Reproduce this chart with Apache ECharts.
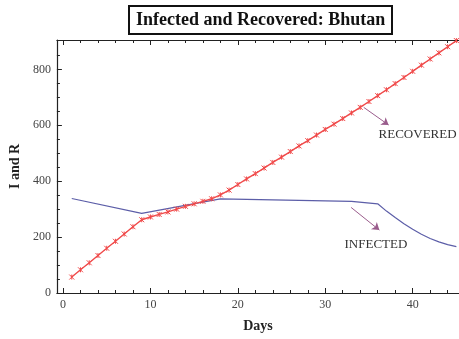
<!DOCTYPE html>
<html>
<head>
<meta charset="utf-8">
<script src="https://cdn.jsdelivr.net/npm/echarts@6/dist/echarts.min.js"></script>
<style>
html,body{margin:0;padding:0;background:#fff;}
#tu_1{width:459px;height:339px;}
</style>
</head>
<body>
<div id="tu_1"></div>
<script>
var title = 'Infected and Recovered: Bhutan';
// recovered, one point per day
var recDays = [1,2,3,4,5,6,7,8,9,10,11,12,13,14,15,16,17,18,19,20,21,22,23,24,25,26,27,28,29,30,31,32,33,34,35,36,37,38,39,40,41,42,43,44,45];
var recovered = [57,83,108,134,160,185,211,237,262,272,281,290,300,310,319,328,337,351,368,388,408,427,447,467,486,506,526,545,565,585,604,624,644,664,685,706,727,749,771,793,815,837,859,881,903];
// infected (read at the break points of the curve)
var infDays = [1,9,18,33,36,37,38,39,40,41,42,43,44,45];
var infected = [338,285,337,328,319,293,270,248,228,210,195,183,173,166];
// ticks
var xMajor = [0,10,20,30,40];
var xMinor = [2,4,6,8,12,14,16,18,22,24,26,28,32,34,36,38,42,44];
var yMajor = [0,200,400,600,800];
var yMinor = [50,100,150,250,300,350,450,500,550,650,700,750,850];

var serif = '"Liberation Serif","DejaVu Serif",serif';
var myChart_1;

function pairs(xs, ys){
	var out = [];
	for(var i=0;i<xs.length;i++){
		out.push([xs[i], ys[i]]);
	}
	return out;
}

function xAx(pos, ticks, len, showLine, labels){
	return {
		type:'value', position:pos, min:-0.7, max:45.3,
		splitLine:{show:false},
		axisLine:{show:showLine, onZero:false, lineStyle:{color:'#222',width:1.2}},
		axisTick:{show:true, inside:true, length:len, customValues:ticks, lineStyle:{color:'#222'}},
		axisLabel:{show:labels, customValues:ticks, fontFamily:serif, fontSize:12, color:'#444', margin:6}
	};
}
function yAx(ticks, len, showLine, labels){
	return {
		type:'value', position:'left', min:0, max:905,
		splitLine:{show:false},
		axisLine:{show:showLine, onZero:false, lineStyle:{color:'#222',width:1.2}},
		axisTick:{show:true, inside:true, length:len, customValues:ticks, lineStyle:{color:'#222'}},
		axisLabel:{show:labels, customValues:ticks, fontFamily:serif, fontSize:12, color:'#444', margin:6}
	};
}

function a1(){
	myChart_1 = echarts.init(document.getElementById('tu_1'));
	var xMain = xAx('bottom', xMajor, 5, true, true);
	xMain.name = 'Days';
	xMain.nameLocation = 'middle';
	xMain.nameGap = 26;
	xMain.nameTextStyle = {fontFamily:serif, fontSize:14, fontWeight:'bold', color:'#222'};
	var yMain = yAx(yMajor, 5, true, true);
	yMain.name = 'I and R';
	yMain.nameLocation = 'middle';
	yMain.nameRotate = 90;
	yMain.nameGap = 30;
	yMain.nameTextStyle = {fontFamily:serif, fontSize:14, fontWeight:'bold', color:'#222'};

	var option = {
		animation:false,
		title:{
			text:title,
			left:129, top:6,
			padding:[5,7,5,7],
			borderColor:'#111', borderWidth:2,
			textStyle:{fontFamily:serif, fontSize:18, fontWeight:'bold', color:'#111'}
		},
		grid:{left:56, right:0, top:40, bottom:46},
		xAxis:[
			xMain,
			xAx('bottom', xMinor, 3, false, false),
			xAx('top', xMajor, 5, true, false),
			xAx('top', xMinor, 3, false, false)
		],
		yAxis:[
			yMain,
			yAx(yMinor, 3, false, false)
		],
		series:[
			{
				name:'INFECTED', type:'line', xAxisIndex:0, yAxisIndex:0,
				data:pairs(infDays, infected),
				showSymbol:false, symbol:'none',
				lineStyle:{color:'#5c5ea8', width:1.2},
				markLine:{
					silent:true, symbol:['none','arrow'], symbolSize:7,
					lineStyle:{color:'#9a5c8c', width:1, type:'solid'},
					label:{show:false},
					data:[[{coord:[32.96,306]},{coord:[36.19,225]}]]
				},
				markPoint:{
					silent:true, symbolSize:0,
					label:{show:true, position:'inside', formatter:'INFECTED', fontFamily:serif, fontSize:13, color:'#333'},
					data:[{coord:[35.8,172]}]
				}
			},
			{
				name:'RECOVERED', type:'line', xAxisIndex:0, yAxisIndex:0,
				data:pairs(recDays, recovered),
				symbol:'path://M0,0L10,10M10,0L0,10M5,0L5,10', symbolSize:5,
				itemStyle:{color:'#f04a4a', borderColor:'#f04a4a', borderWidth:1},
				lineStyle:{color:'#f04a4a', width:1.4},
				markLine:{
					silent:true, symbol:['none','arrow'], symbolSize:7,
					lineStyle:{color:'#9a5c8c', width:1, type:'solid'},
					label:{show:false},
					data:[[{coord:[34.4,664]},{coord:[37.25,601]}]]
				},
				markPoint:{
					silent:true, symbolSize:0,
					label:{show:true, position:'inside', formatter:'RECOVERED', fontFamily:serif, fontSize:13, color:'#333'},
					data:[{coord:[40.56,565]}]
				}
			}
		]
	};
	myChart_1.setOption(option);
}
a1();
</script>
</body>
</html>
